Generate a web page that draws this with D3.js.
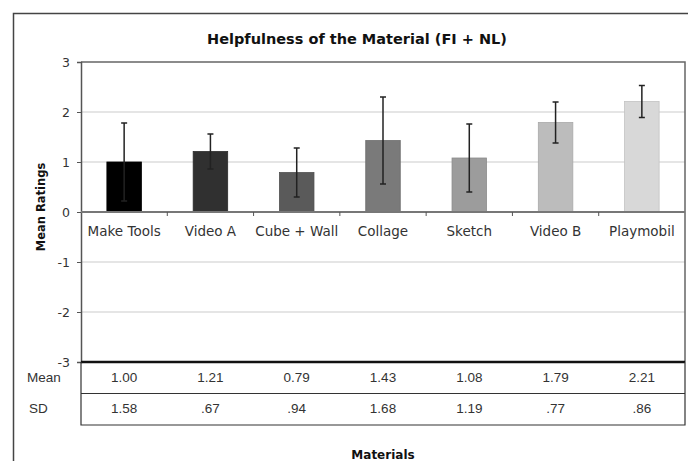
<!DOCTYPE html>
<html>
<head>
<meta charset="utf-8">
<script src="https://cdn.jsdelivr.net/npm/d3@7"></script>
<style>
  body { margin: 0; background: #fff; }
  svg { display: block; }
</style>
</head>
<body>
<svg></svg>
<script>
const size = {w: 688, h: 461};
const margin = {t: 62, r: 3, b: 99, l: 81};

const materials = ['Make Tools', 'Video A', 'Cube + Wall', 'Collage', 'Sketch', 'Video B', 'Playmobil'];
const means = [1.00, 1.21, 0.79, 1.43, 1.08, 1.79, 2.21];
const meanLabels = ['1.00', '1.21', '0.79', '1.43', '1.08', '1.79', '2.21'];
const sdLabels = ['1.58', '.67', '.94', '1.68', '1.19', '.77', '.86'];
// half-length of the error bars as drawn
const errors = [0.78, 0.35, 0.49, 0.87, 0.68, 0.41, 0.32];
const fills = ['#000000', '#303030', '#5a5a5a', '#7a7a7a', '#9c9c9c', '#bcbcbc', '#d8d8d8'];
const yTicks = [3, 2, 1, 0, -1, -2, -3];

const svg = d3.select('svg')
    .attr('width', size.w)
    .attr('height', size.h);

const x = d3.scaleBand()
    .domain(materials)
    .range([margin.l, size.w - margin.r])
    .paddingInner(0.6)
    .paddingOuter(0.3);

const y = d3.scaleLinear()
    .domain([-3, 3])
    .range([size.h - margin.b, margin.t]);

const plotL = margin.l, plotR = size.w - margin.r;

// outer frame
svg.append('rect')
    .attr('x', 13.5).attr('y', 13.5)
    .attr('width', 700).attr('height', 500)
    .attr('fill', 'none')
    .attr('stroke', '#444')
    .attr('stroke-width', 1.5);

// title
svg.append('text')
    .attr('x', 357)
    .attr('y', 44)
    .attr('text-anchor', 'middle')
    .attr('font-family', 'DejaVu Sans, Verdana, sans-serif')
    .attr('font-weight', 'bold')
    .attr('font-size', 14.5)
    .attr('fill', '#111')
    .text('Helpfulness of the Material (FI + NL)');

// gridlines
svg.append('g')
    .selectAll('line')
    .data(yTicks.filter(d => d !== 0 && d !== 3 && d !== -3))
    .join('line')
    .attr('x1', plotL).attr('x2', plotR)
    .attr('y1', d => y(d)).attr('y2', d => y(d))
    .attr('stroke', '#dcdcdc')
    .attr('stroke-width', 1.5);

// top and right border of plot area
svg.append('path')
    .attr('d', `M${plotL},${y(3)}H${plotR}V${y(-3)}`)
    .attr('fill', 'none')
    .attr('stroke', '#666')
    .attr('stroke-width', 1.5);

// y axis
const yAxis = svg.append('g')
    .attr('transform', `translate(${plotL},0)`)
    .call(d3.axisLeft(y).tickValues(yTicks).tickSize(4).tickPadding(7).tickFormat(d => String(d)));
yAxis.select('.domain').attr('stroke', '#555').attr('stroke-width', 1.5);
yAxis.selectAll('.tick line').attr('stroke', '#555');
yAxis.selectAll('.tick text')
    .attr('font-family', 'DejaVu Sans, Verdana, sans-serif')
    .attr('font-size', 12.5)
    .attr('fill', '#333');

// bars
svg.append('g')
    .selectAll('rect')
    .data(materials)
    .join('rect')
    .attr('x', d => x(d))
    .attr('width', x.bandwidth())
    .attr('y', (d, i) => y(means[i]))
    .attr('height', (d, i) => y(0) - y(means[i]))
    .attr('fill', (d, i) => fills[i])
    .attr('stroke', (d, i) => d3.color(fills[i]).darker(0.3))
    .attr('stroke-width', 0.8);

// error bars
const err = svg.append('g')
    .attr('stroke', '#222')
    .attr('stroke-width', 1.5)
    .selectAll('g')
    .data(materials)
    .join('g')
    .attr('transform', d => `translate(${x(d) + x.bandwidth() / 2},0)`);
err.append('line')
    .attr('y1', (d, i) => y(means[i] + errors[i]))
    .attr('y2', (d, i) => y(means[i] - errors[i]));
err.append('line')
    .attr('x1', -3).attr('x2', 3)
    .attr('y1', (d, i) => y(means[i] + errors[i]))
    .attr('y2', (d, i) => y(means[i] + errors[i]));
err.append('line')
    .attr('x1', -3).attr('x2', 3)
    .attr('y1', (d, i) => y(means[i] - errors[i]))
    .attr('y2', (d, i) => y(means[i] - errors[i]));

// zero axis with category labels
const xAxis = svg.append('g')
    .attr('transform', `translate(0,${y(0)})`)
    .call(d3.axisBottom(x).tickSize(0).tickPadding(14));
xAxis.select('.domain').remove();
xAxis.selectAll('.tick text')
    .attr('font-family', 'DejaVu Sans, Verdana, sans-serif')
    .attr('font-size', 13.5)
    .attr('fill', '#333');
svg.append('line')
    .attr('x1', plotL).attr('x2', plotR)
    .attr('y1', y(0)).attr('y2', y(0))
    .attr('stroke', '#777')
    .attr('stroke-width', 2);
svg.append('g')
    .selectAll('line')
    .data(materials.slice(1))
    .join('line')
    .attr('x1', d => x(d) - x.step() * x.paddingInner() / 2)
    .attr('x2', d => x(d) - x.step() * x.paddingInner() / 2)
    .attr('y1', y(0)).attr('y2', y(0) + 4)
    .attr('stroke', '#555');

// y axis title
svg.append('text')
    .attr('transform', `translate(45,${y(0) - 5}) rotate(-90)`)
    .attr('text-anchor', 'middle')
    .attr('font-family', 'DejaVu Sans, Verdana, sans-serif')
    .attr('font-weight', 'bold')
    .attr('font-size', 11.5)
    .attr('fill', '#111')
    .text('Mean Ratings');

// data table
const rowH = 31.5;
const tTop = y(-3);
const table = svg.append('g');
table.append('line')
    .attr('x1', plotL).attr('x2', plotR)
    .attr('y1', tTop).attr('y2', tTop)
    .attr('stroke', '#111').attr('stroke-width', 2.5);
table.append('line')
    .attr('x1', plotL).attr('x2', plotR)
    .attr('y1', tTop + rowH).attr('y2', tTop + rowH)
    .attr('stroke', '#333').attr('stroke-width', 1.2);
table.append('path')
    .attr('d', `M${plotL},${tTop}V${tTop + rowH * 2}H${plotR}V${tTop}`)
    .attr('fill', 'none')
    .attr('stroke', '#333').attr('stroke-width', 1.2);

const rows = [{label: 'Mean', vals: meanLabels}, {label: 'SD', vals: sdLabels}];
rows.forEach((r, ri) => {
    const cy = tTop + rowH * ri + rowH / 2 + 4;
    table.append('text')
        .attr('x', ri === 0 ? 27 : 29)
        .attr('y', cy)
        .attr('font-family', 'Liberation Sans, Arial, sans-serif')
        .attr('font-size', 13.5)
        .attr('fill', '#333')
        .text(r.label);
    table.append('g')
        .selectAll('text')
        .data(materials)
        .join('text')
        .attr('x', d => x(d) + x.bandwidth() / 2)
        .attr('y', cy)
        .attr('text-anchor', 'middle')
        .attr('font-family', 'Liberation Sans, Arial, sans-serif')
        .attr('font-size', 13.5)
        .attr('fill', '#333')
        .text((d, i) => r.vals[i]);
});

// x axis title
svg.append('text')
    .attr('x', (plotL + plotR) / 2)
    .attr('y', 459)
    .attr('text-anchor', 'middle')
    .attr('font-family', 'DejaVu Sans, Verdana, sans-serif')
    .attr('font-weight', 'bold')
    .attr('font-size', 12)
    .attr('fill', '#111')
    .text('Materials');
</script>
</body>
</html>
